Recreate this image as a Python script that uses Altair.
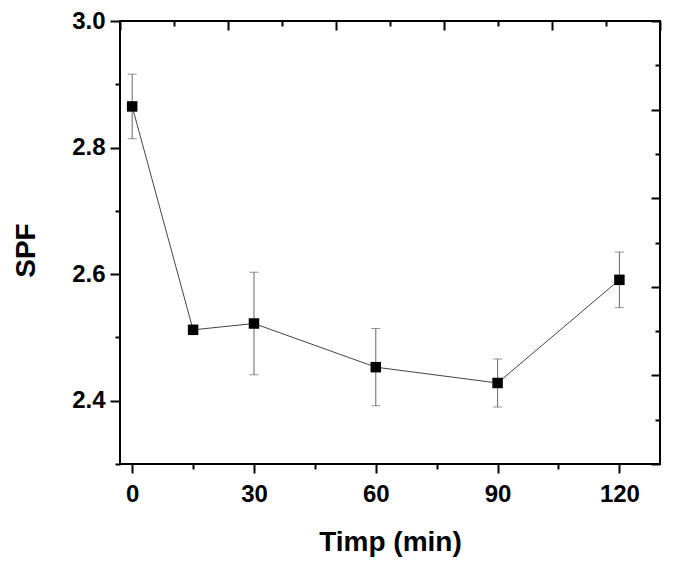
import altair as alt
import pandas as pd

# Data
time_min = [0, 15, 30, 60, 90, 120]
spf = [2.865, 2.512, 2.522, 2.453, 2.428, 2.591]
spf_err = [0.051, 0.007, 0.081, 0.061, 0.038, 0.044]

x_major = [0, 30, 60, 90, 120]
x_minor = [15, 45, 75, 105]
y_major = [2.4, 2.6, 2.8, 3.0]
y_minor = [2.3, 2.5, 2.7, 2.9]

X_DOMAIN = [-3, 130]
Y_DOMAIN = [2.3, 3.0]

W, H = 540, 443
FONT = "Liberation Sans"

# mirror axes (top / right): domain split in 10 equal divisions
top_major = [X_DOMAIN[0] + k * (X_DOMAIN[1] - X_DOMAIN[0]) / 10 for k in range(0, 11, 2)]
top_minor = [X_DOMAIN[0] + k * (X_DOMAIN[1] - X_DOMAIN[0]) / 10 for k in range(1, 11, 2)]
right_major = [Y_DOMAIN[0] + k * (Y_DOMAIN[1] - Y_DOMAIN[0]) / 10 for k in range(0, 11, 2)]
right_minor = [Y_DOMAIN[0] + k * (Y_DOMAIN[1] - Y_DOMAIN[0]) / 10 for k in range(1, 11, 2)]

df = pd.DataFrame({"time": time_min, "spf": spf, "err": spf_err})
df["lo"] = df["spf"] - df["err"]
df["hi"] = df["spf"] + df["err"]

xs = alt.Scale(domain=X_DOMAIN, nice=False, zero=False)
ys = alt.Scale(domain=Y_DOMAIN, nice=False, zero=False)

common = dict(domain=False, grid=False, tickColor="black", tickWidth=2)

ax_bottom_major = alt.Axis(orient="bottom", values=x_major, tickSize=9, labelFont=FONT,
                           labelFontSize=24, labelFontWeight="bold", labelColor="black",
                           labelPadding=9, title="Timp (min)", titleFont=FONT,
                           titleFontSize=28, titleFontWeight="bold", titleColor="black",
                           titlePadding=22, format="d", **common)
ax_bottom_minor = alt.Axis(orient="bottom", values=x_minor, tickSize=5, labels=False,
                           title=None, **common)
ax_top_major = alt.Axis(orient="bottom", offset=-H, values=top_major, tickSize=9,
                        labels=False, title=None, **common)
ax_top_minor = alt.Axis(orient="bottom", offset=-H, values=top_minor, tickSize=5,
                        labels=False, title=None, **common)

ax_left_major = alt.Axis(orient="left", values=y_major, tickSize=10, labelFont=FONT,
                         labelFontSize=24, labelFontWeight="bold", labelColor="black",
                         labelPadding=5, format=".1f", title="SPF", titleFont=FONT,
                         titleFontSize=28, titleFontWeight="bold", titleColor="black",
                         titlePadding=31, titleY=229, **common)
ax_left_minor = alt.Axis(orient="left", values=y_minor, tickSize=5, labels=False,
                         title=None, **common)
ax_right_major = alt.Axis(orient="left", offset=-W, values=right_major, tickSize=9,
                          labels=False, title=None, **common)
ax_right_minor = alt.Axis(orient="left", offset=-W, values=right_minor, tickSize=5,
                          labels=False, title=None, **common)

base = alt.Chart(df)

errbars = base.mark_rule(color="#666666", strokeWidth=1).encode(
    x=alt.X("time:Q", scale=xs, axis=ax_top_major),
    y=alt.Y("lo:Q", scale=ys, axis=ax_right_major),
    y2="hi:Q",
)
cap_lo = base.mark_tick(color="#666666", thickness=1, size=9, orient="horizontal").encode(
    x=alt.X("time:Q", scale=xs, axis=ax_top_minor),
    y=alt.Y("lo:Q", scale=ys, axis=ax_right_minor),
)
cap_hi = base.mark_tick(color="#666666", thickness=1, size=9, orient="horizontal").encode(
    x=alt.X("time:Q", scale=xs, axis=None),
    y=alt.Y("hi:Q", scale=ys, axis=None),
)
line = base.mark_line(color="#444444", strokeWidth=1).encode(
    x=alt.X("time:Q", scale=xs, axis=ax_bottom_minor),
    y=alt.Y("spf:Q", scale=ys, axis=ax_left_minor),
)
points = base.mark_square(color="black", opacity=1, size=110).encode(
    x=alt.X("time:Q", scale=xs, axis=ax_bottom_major),
    y=alt.Y("spf:Q", scale=ys, axis=ax_left_major),
)

chart = (
    alt.layer(errbars, cap_lo, cap_hi, line, points)
    .resolve_axis(x="independent", y="independent")
    .properties(
        width=W,
        height=H,
        autosize=alt.AutoSizeParams(type="none"),
        padding={"left": 112, "top": 13, "right": 8, "bottom": 97},
        background="white",
    )
    .configure_view(stroke="black", strokeWidth=2)
)

chart.save("out.html", embed_options={"renderer": "svg", "actions": False})
